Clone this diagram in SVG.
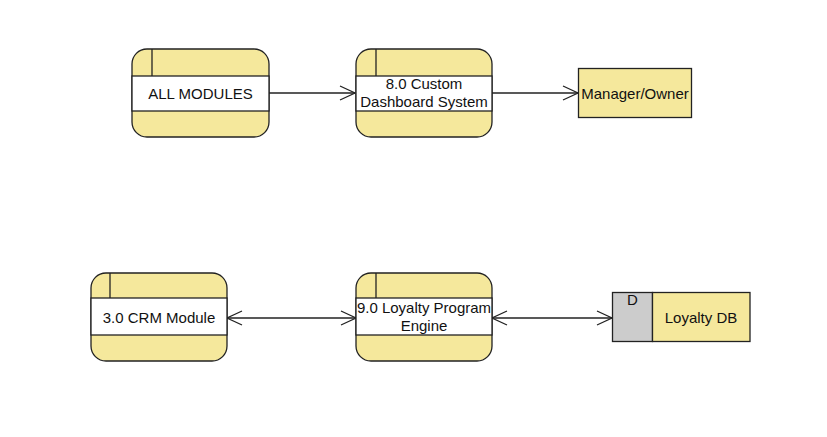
<svg xmlns="http://www.w3.org/2000/svg" width="827" height="437" viewBox="0 0 827 437">
<style>
.bg{fill:#f5e89c;stroke:#222;stroke-width:1.3}
.band{fill:#fff;stroke:#222;stroke-width:1.3}
.ln{stroke:#222;stroke-width:1.3;fill:none}
.t{font-family:"Liberation Sans",Arial,sans-serif;font-size:15px;fill:#111;text-anchor:middle}
.c{fill:none;stroke:#222;stroke-width:1.3}
</style>
<defs>
<marker id="ah" viewBox="0 0 17 16" refX="16" refY="8" markerWidth="17" markerHeight="16" markerUnits="userSpaceOnUse" orient="auto-start-reverse">
<path d="M1,1 L16,8 L1,15" fill="none" stroke="#222" stroke-width="1.3"/>
</marker>
</defs>
<rect width="827" height="437" fill="#fff"/>
<g id="connectors">
<line class="c" x1="269" y1="93" x2="355" y2="93" marker-end="url(#ah)"/>
<line class="c" x1="492" y1="93" x2="578" y2="93" marker-end="url(#ah)"/>
<line class="c" x1="227" y1="318" x2="356" y2="318" marker-start="url(#ah)" marker-end="url(#ah)"/>
<line class="c" x1="492" y1="318" x2="612" y2="318" marker-start="url(#ah)" marker-end="url(#ah)"/>
</g>
<g id="all-modules">
<rect class="bg" x="132" y="49" width="137" height="88" rx="15"/>
<rect class="band" x="132" y="76" width="137" height="35"/>
<line class="ln" x1="152" y1="49" x2="152" y2="76"/>
<text class="t" x="200.5" y="98.5">ALL MODULES</text>
</g>
<g id="dashboard">
<rect class="bg" x="356" y="49" width="136" height="88" rx="15"/>
<rect class="band" x="356" y="76" width="136" height="35"/>
<line class="ln" x1="376" y1="49" x2="376" y2="76"/>
<text class="t" x="424" y="89">8.0 Custom</text>
<text class="t" x="424" y="106.5">Dashboard System</text>
</g>
<g id="manager">
<rect class="bg" x="578.5" y="68.5" width="113" height="49"/>
<text class="t" x="635" y="98.5">Manager/Owner</text>
</g>
<g id="crm">
<rect class="bg" x="91" y="273" width="136" height="88" rx="15"/>
<rect class="band" x="91" y="298" width="136" height="37"/>
<line class="ln" x1="110" y1="273" x2="110" y2="298"/>
<text class="t" x="159" y="323">3.0 CRM Module</text>
</g>
<g id="loyalty-engine">
<rect class="bg" x="356" y="273" width="136" height="88" rx="15"/>
<rect class="band" x="356" y="298" width="136" height="37"/>
<line class="ln" x1="376" y1="273" x2="376" y2="298"/>
<text class="t" x="424" y="313">9.0 Loyalty Program</text>
<text class="t" x="424" y="331">Engine</text>
</g>
<g id="loyalty-db">
<rect x="612.5" y="292.5" width="40" height="49" fill="#cccccc" stroke="#222" stroke-width="1.3"/>
<rect class="bg" x="652.5" y="292.5" width="97.5" height="49"/>
<text class="t" x="632.5" y="305">D</text>
<text class="t" x="701" y="323">Loyalty DB</text>
</g>
</svg>
